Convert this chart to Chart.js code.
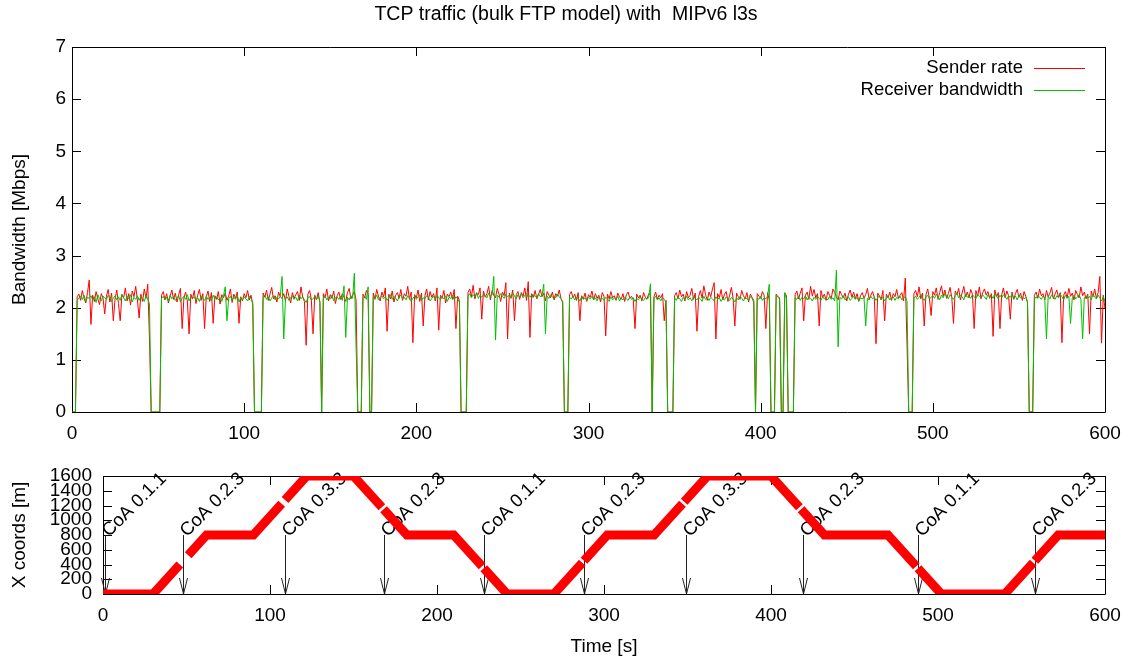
<!DOCTYPE html>
<html>
<head>
<meta charset="utf-8">
<script src="https://cdn.jsdelivr.net/npm/chart.js@4.4.1/dist/chart.umd.min.js"></script>
<style>
  html, body { margin: 0; padding: 0; background: #fff; }
  #top { position: absolute; left: 0; top: 0; width: 1132px; height: 450px; }
  #bottom { position: absolute; left: 0; top: 450px; width: 1132px; height: 212px; }
</style>
</head>
<body>
<div id="top"><canvas id="bw" width="1132" height="450"></canvas></div>
<div id="bottom"><canvas id="pos" width="1132" height="212"></canvas></div>
<script>
const titleText = "TCP traffic (bulk FTP model) with  MIPv6 l3s";
const sampleStep = 1; // seconds between samples
const timeTicks = [0, 100, 200, 300, 400, 500, 600];
const bwTicks = [0, 1, 2, 3, 4, 5, 6, 7];
const posTicks = [0, 200, 400, 600, 800, 1000, 1200, 1400, 1600];

// Mbps, one value per second, t = 0..600
const senderRate = [
  0, 0, 0, 2.21, 2.26, 2.14, 2.33, 2.18, 2.09, 2.29,
  2.53, 1.68, 2.24, 2.12, 2.31, 2.17, 2.06, 2.27, 2.19, 1.88,
  2.22, 2.35, 2.11, 2.28, 1.75, 2.16, 2.34, 2.08, 1.75, 2.25,
  2.19, 2.38, 2.13, 2.27, 2.05, 2.32, 2.21, 2.41, 2.15, 1.80,
  2.26, 2.12, 2.36, 2.18, 2.45, 1.40, 0, 0, 0, 0,
  0, 0, 2.24, 2.31, 2.15, 2.27, 2.09, 2.22, 2.34, 2.16,
  2.28, 2.11, 2.25, 2.37, 1.60, 2.19, 2.30, 2.13, 1.50, 2.26,
  2.17, 2.33, 2.08, 2.24, 2.35, 2.14, 2.27, 1.60, 2.21, 2.32,
  2.12, 2.29, 1.70, 2.23, 2.16, 2.31, 2.07, 2.25, 2.19, 2.28,
  2.14, 2.22, 2.36, 2.10, 2.26, 2.18, 2.30, 1.70, 2.21, 2.13,
  2.27, 2.19, 2.33, 2.15, 2.24, 2.05, 0, 0, 0, 0,
  0, 2.28, 2.20, 2.34, 2.14, 2.26, 2.39, 2.17, 2.23, 2.11,
  2.30, 2.21, 2.18, 2.27, 2.13, 2.36, 2.22, 2.09, 2.29, 2.18,
  2.25, 2.31, 2.14, 2.40, 2.20, 2.12, 1.28, 2.26, 2.33, 2.17,
  1.50, 2.24, 2.15, 2.29, 2.10, 0, 2.27, 2.19, 2.36, 2.13,
  2.25, 2.18, 2.32, 2.08, 2.23, 2.30, 2.16, 2.27, 2.20, 2.12,
  2.29, 2.37, 2.17, 2.24, 2.31, 2.15, 0, 0, 0, 2.26,
  2.19, 2.33, 2.25, 0, 0, 2.28, 2.16, 2.35, 2.22, 2.13,
  2.30, 2.21, 2.38, 1.55, 2.26, 2.17, 2.32, 2.11, 2.24, 2.29,
  2.18, 2.35, 2.14, 2.27, 2.22, 2.41, 2.16, 2.30, 1.33, 2.25,
  2.19, 2.34, 2.12, 2.28, 1.65, 2.23, 2.36, 2.15, 2.31, 2.20,
  2.27, 2.13, 2.38, 1.57, 2.24, 2.18, 2.33, 2.09, 2.26, 2.21,
  2.30, 2.16, 2.35, 1.60, 2.22, 2.14, 0, 0, 0, 0,
  2.29, 2.36, 2.21, 2.43, 2.17, 2.28, 2.25, 2.38, 1.78, 2.32,
  2.20, 2.27, 2.41, 2.15, 2.33, 2.24, 2.19, 2.37, 2.26, 2.12,
  2.30, 2.23, 2.48, 1.40, 2.28, 2.18, 2.34, 1.75, 2.25, 2.31,
  2.16, 2.29, 2.22, 2.38, 2.14, 2.50, 1.43, 2.27, 2.20, 2.33,
  2.17, 2.26, 2.35, 2.21, 2.28, 2.13, 2.31, 2.24, 2.19, 2.30,
  2.15, 2.27, 2.22, 2.34, 2.18, 2.10, 0, 0, 0, 2.25,
  2.31, 2.19, 2.26, 2.14, 2.29, 1.75, 2.23, 2.17, 2.28, 2.12,
  2.25, 2.20, 2.32, 2.15, 2.27, 2.18, 2.24, 2.11, 2.29, 2.22,
  1.46, 2.26, 2.17, 2.31, 2.19, 2.23, 2.14, 2.28, 2.21, 2.16,
  2.27, 2.12, 2.25, 2.30, 2.18, 2.22, 2.15, 1.60, 2.26, 2.19,
  2.24, 2.13, 2.29, 2.20, 2.17, 2.27, 2.25, 0, 2.21, 2.30,
  2.16, 2.24, 2.19, 2.27, 1.75, 2.14, 0, 0, 0, 0,
  2.23, 2.29, 2.17, 2.34, 2.21, 2.26, 2.13, 2.31, 2.19, 2.24,
  2.37, 2.16, 2.28, 1.55, 2.22, 2.33, 2.18, 2.42, 2.25, 2.14,
  2.30, 2.21, 2.36, 2.48, 1.40, 2.27, 2.19, 2.35, 2.15, 2.26,
  2.31, 2.12, 2.24, 2.39, 2.18, 1.65, 2.28, 2.21, 2.16, 2.33,
  2.23, 2.17, 2.29, 2.11, 2.26, 2.20, 2.14, 0, 2.27, 2.22,
  2.18, 2.31, 2.24, 1.60, 2.29, 2.15, 0, 0, 0, 2.26,
  2.21, 2.19, 0, 0, 2.28, 2.23, 0, 0, 0, 0,
  2.25, 2.32, 2.17, 2.28, 2.38, 1.75, 2.24, 2.30, 2.16, 2.41,
  2.22, 2.35, 2.19, 2.27, 1.65, 2.33, 2.20, 2.26, 2.14, 2.31,
  2.24, 2.18, 2.36, 2.29, 2.21, 2.15, 2.32, 2.25, 2.19, 2.28,
  2.13, 2.26, 2.34, 2.20, 2.30, 2.17, 2.27, 2.12, 2.23, 2.29,
  2.18, 2.25, 2.37, 2.16, 2.24, 2.31, 2.20, 1.31, 2.28, 2.22,
  2.15, 2.33, 1.75, 2.26, 2.19, 2.30, 2.14, 2.27, 2.21, 2.35,
  2.18, 2.24, 2.29, 2.13, 2.57, 1.30, 0, 0, 0, 2.27,
  2.33, 2.21, 2.40, 2.17, 2.28, 1.65, 2.25, 2.36, 2.19, 1.85,
  2.31, 2.24, 2.38, 2.16, 2.29, 2.42, 2.22, 2.34, 2.18, 2.27,
  2.39, 2.20, 1.70, 2.32, 2.25, 2.37, 2.15, 2.28, 2.41, 2.21,
  2.30, 2.19, 2.35, 2.26, 1.60, 2.33, 2.22, 2.40, 2.17, 2.29,
  2.36, 2.24, 2.31, 2.18, 2.27, 1.45, 2.34, 2.21, 2.29, 1.60,
  2.25, 2.38, 2.19, 2.32, 2.23, 1.78, 2.30, 2.16, 2.27, 2.35,
  2.20, 2.28, 2.14, 2.31, 2.22, 2.09, 0, 0, 0, 2.24,
  2.30, 2.18, 2.36, 2.23, 2.27, 2.15, 2.33, 2.21, 2.28, 2.39,
  2.17, 2.26, 2.34, 2.20, 2.29, 1.33, 2.24, 2.31, 2.19, 2.37,
  2.22, 2.28, 2.15, 2.33, 2.25, 2.19, 2.40, 2.23, 2.30, 2.17,
  2.26, 1.50, 2.32, 2.21, 2.36, 2.18, 2.29, 2.60, 1.32, 2.24,
  1.98
];

const receiverBw = [
  0, 0, 0, 2.14, 2.19, 2.22, 2.16, 2.24, 2.12, 2.20,
  2.18, 2.23, 2.15, 2.21, 2.10, 2.25, 2.17, 2.13, 2.22, 2.19,
  2.16, 2.24, 2.20, 2.12, 2.18, 2.23, 2.15, 2.21, 2.14, 2.26,
  2.19, 2.13, 2.22, 2.17, 2.25, 2.11, 2.20, 2.16, 2.23, 2.14,
  2.21, 2.18, 2.12, 2.24, 2.16, 2.08, 0, 0, 0, 0,
  0, 0, 2.18, 2.22, 2.15, 2.20, 2.13, 2.24, 2.17, 2.21,
  2.14, 2.19, 2.23, 2.11, 2.18, 2.22, 2.16, 2.25, 2.13, 2.20,
  2.17, 2.21, 2.15, 2.19, 2.12, 2.23, 2.18, 2.14, 2.22, 2.16,
  2.20, 2.13, 2.24, 2.17, 2.21, 2.15, 2.19, 2.12, 2.23, 2.40,
  1.75, 2.18, 2.22, 2.14, 2.20, 2.16, 2.24, 2.11, 2.19, 2.15,
  2.21, 2.17, 2.13, 2.22, 2.18, 2.10, 0, 0, 0, 0,
  0, 2.20, 2.24, 2.16, 2.21, 2.13, 2.19, 2.23, 2.15, 2.20,
  2.17, 2.22, 2.60, 1.40, 2.18, 2.21, 2.14, 2.19, 2.23, 2.16,
  2.20, 2.13, 2.24, 2.17, 2.21, 2.15, 2.10, 2.19, 2.22, 2.14,
  2.18, 2.21, 2.16, 2.23, 2.12, 0, 2.19, 2.22, 2.15, 2.20,
  2.17, 2.24, 2.13, 2.19, 2.21, 2.16, 2.22, 2.14, 2.42, 1.43,
  2.20, 2.15, 2.23, 2.18, 2.66, 1.27, 0, 0, 0, 2.19,
  2.22, 2.16, 2.40, 0, 0, 2.21, 2.18, 2.24, 2.15, 2.20,
  2.23, 2.17, 2.21, 2.14, 2.19, 2.25, 2.16, 2.22, 2.18, 2.13,
  2.21, 2.24, 2.17, 2.20, 2.15, 2.23, 2.19, 2.12, 2.18, 2.22,
  2.16, 2.21, 2.25, 2.14, 2.19, 2.17, 2.23, 2.20, 2.13, 2.18,
  2.22, 2.16, 2.24, 2.19, 2.15, 2.21, 2.17, 2.23, 2.12, 2.20,
  2.18, 2.24, 2.15, 2.21, 2.17, 2.11, 0, 0, 0, 0,
  2.22, 2.27, 2.19, 2.25, 2.21, 2.29, 2.18, 2.24, 2.20, 2.26,
  2.23, 2.19, 2.28, 2.21, 2.25, 2.60, 1.38, 2.24, 2.20, 2.27,
  2.22, 2.18, 2.26, 2.21, 2.24, 2.19, 2.28, 2.23, 2.17, 2.25,
  2.21, 2.26, 2.19, 2.24, 2.28, 2.20, 2.23, 2.18, 2.25, 2.22,
  2.19, 2.27, 2.21, 2.24, 2.45, 1.50, 2.22, 2.18, 2.25, 2.20,
  2.23, 2.19, 2.26, 2.21, 2.17, 2.12, 0, 0, 0, 2.20,
  2.17, 2.22, 2.15, 2.20, 2.18, 2.13, 2.21, 2.16, 2.19, 2.14,
  2.20, 2.17, 2.22, 2.15, 2.19, 2.13, 2.21, 2.16, 2.18, 2.14,
  2.20, 2.17, 2.12, 2.21, 2.15, 2.19, 2.16, 2.22, 2.13, 2.18,
  2.15, 2.20, 2.17, 2.14, 2.21, 2.16, 2.19, 2.12, 2.18, 2.15,
  2.21, 2.17, 2.14, 2.19, 2.16, 2.20, 2.46, 0, 2.18, 2.22,
  2.15, 2.19, 2.13, 2.20, 2.16, 2.10, 0, 0, 0, 0,
  2.19, 2.14, 2.21, 2.17, 2.12, 2.20, 2.16, 2.22, 2.15, 2.19,
  2.13, 2.21, 2.18, 2.15, 2.20, 2.17, 2.12, 2.22, 2.16, 2.19,
  2.14, 2.20, 2.17, 2.13, 2.21, 2.16, 2.19, 2.12, 2.18, 2.15,
  2.21, 2.17, 2.14, 2.20, 2.16, 2.11, 2.19, 2.15, 2.22, 2.18,
  2.13, 2.20, 2.17, 2.15, 2.21, 2.18, 2.10, 0, 2.19, 2.16,
  2.22, 2.14, 2.19, 2.17, 2.21, 2.45, 0, 0, 0, 2.24,
  2.20, 2.17, 0, 0, 2.29, 2.18, 0, 0, 0, 0,
  2.19, 2.16, 2.22, 2.14, 2.20, 2.17, 2.23, 2.15, 2.21, 2.18,
  2.13, 2.20, 2.16, 2.22, 2.18, 2.14, 2.21, 2.17, 2.19, 2.15,
  2.22, 2.16, 2.19, 2.13, 2.72, 1.25, 2.20, 2.17, 2.23, 2.15,
  2.19, 2.21, 2.14, 2.18, 2.22, 2.16, 2.20, 2.13, 2.19, 2.17,
  2.21, 1.65, 2.18, 2.15, 2.22, 2.17, 2.20, 2.14, 2.19, 2.23,
  2.16, 2.20, 2.13, 2.18, 2.22, 2.15, 2.19, 2.21, 2.14, 2.20,
  2.17, 2.22, 2.15, 2.19, 2.21, 2.12, 0, 0, 0, 2.18,
  2.22, 2.16, 2.20, 2.25, 2.18, 2.14, 2.21, 2.24, 2.17, 2.20,
  2.23, 2.18, 2.26, 2.21, 2.15, 2.24, 2.19, 2.27, 2.22, 2.17,
  2.25, 2.20, 2.16, 2.23, 2.28, 2.19, 2.24, 2.21, 2.15, 2.26,
  2.20, 2.23, 2.18, 2.25, 2.21, 2.17, 2.26, 2.22, 2.19, 2.24,
  2.21, 2.16, 2.25, 2.20, 2.23, 2.18, 2.27, 2.22, 2.17, 2.24,
  2.19, 2.25, 2.21, 2.16, 2.23, 2.20, 2.26, 2.18, 2.22, 2.15,
  2.24, 2.19, 2.21, 2.17, 2.20, 2.12, 0, 0, 0, 2.21,
  2.18, 2.24, 2.20, 2.16, 2.23, 2.19, 1.40, 2.22, 2.17, 2.25,
  2.20, 2.16, 2.23, 2.19, 2.26, 2.21, 2.15, 2.24, 2.18, 2.22,
  1.70, 2.19, 2.24, 2.17, 2.21, 2.25, 2.16, 1.40, 2.20, 2.23,
  2.18, 2.22, 2.15, 2.26, 2.20, 2.17, 2.24, 2.19, 2.13, 2.21,
  2.12
];

// mobile node X coordinate [m]; null = no sample (handover gap)
const posTimes  = [0, 30, 46, 47, 51, 62, 90, 107, 108, 109, 122, 150, 167, 167.5, 168, 182, 210,
                   227, 227.5, 228, 242, 270, 287, 287.5, 288, 302, 330, 347, 347.5, 348, 362, 400,
                   417, 417.5, 418, 432, 470, 487, 487.5, 488, 502, 540, 557, 557.5, 558, 572, 600];
const posValues = [0, 0, 400, null, 525, 800, 800, 1225, null, 1275, 1600, 1600, 1175, null, 1150, 800, 800,
                   375, null, 350, 0, 0, 425, null, 450, 800, 800, 1225, null, 1250, 1600, 1600,
                   1175, null, 1150, 800, 800, 375, null, 350, 0, 0, 425, null, 450, 800, 800];

// care-of-address changes
const coaTimes = [1, 48, 109, 168, 228, 288, 349, 419, 488, 558];
const coaLabels = ['CoA 0.1.1', 'CoA 0.2.3', 'CoA 0.3.3', 'CoA 0.2.3', 'CoA 0.1.1',
                   'CoA 0.2.3', 'CoA 0.3.3', 'CoA 0.2.3', 'CoA 0.1.1', 'CoA 0.2.3'];
const coaFrom = 800;
const coaTo = 0;

const FONT = '"Liberation Sans", Arial, Helvetica, sans-serif';
Chart.defaults.font.family = FONT;
Chart.defaults.font.size = 19;
Chart.defaults.color = '#000';

// gnuplot style box with inward ticks on all four sides
const frame = {
  id: 'frame',
  beforeDatasetsDraw(chart) {
    const { ctx, chartArea: a, scales } = chart;
    const L = 9;
    ctx.save();
    ctx.strokeStyle = '#000';
    ctx.lineWidth = 1;
    ctx.beginPath();
    ctx.rect(Math.round(a.left) + 0.5, Math.round(a.top) + 0.5,
             Math.round(a.right - a.left), Math.round(a.bottom - a.top));
    for (const t of scales.x.ticks) {
      const px = Math.round(scales.x.getPixelForValue(t.value)) + 0.5;
      ctx.moveTo(px, a.bottom); ctx.lineTo(px, a.bottom - L);
      ctx.moveTo(px, a.top); ctx.lineTo(px, a.top + L);
    }
    for (const t of scales.y.ticks) {
      const py = Math.round(scales.y.getPixelForValue(t.value)) + 0.5;
      ctx.moveTo(a.left, py); ctx.lineTo(a.left + L, py);
      ctx.moveTo(a.right, py); ctx.lineTo(a.right - L, py);
    }
    ctx.stroke();
    ctx.restore();
  }
};

const keyBox = {
  id: 'keyBox',
  afterDatasetsDraw(chart) {
    const { ctx } = chart;
    ctx.save();
    ctx.font = '18.5px ' + FONT;
    ctx.textAlign = 'right';
    ctx.textBaseline = 'middle';
    chart.data.datasets.forEach((ds, i) => {
      const y = 68 + i * 22;
      ctx.fillStyle = '#000';
      ctx.fillText(ds.label, 1023, y);
      ctx.strokeStyle = ds.borderColor;
      ctx.lineWidth = 1;
      ctx.beginPath();
      ctx.moveTo(1034, Math.round(y) + 0.5);
      ctx.lineTo(1085, Math.round(y) + 0.5);
      ctx.stroke();
    });
    ctx.font = '19.5px ' + FONT;
    ctx.textAlign = 'center';
    ctx.fillText(titleText, chart.width / 2, 15);
    ctx.restore();
  }
};

const coaMarks = {
  id: 'coaMarks',
  beforeDatasetsDraw(chart) {
    const { ctx, scales } = chart;
    ctx.save();
    ctx.strokeStyle = '#222';
    ctx.fillStyle = '#000';
    ctx.lineWidth = 1;
    ctx.font = '18.5px ' + FONT;
    ctx.textAlign = 'left';
    ctx.textBaseline = 'middle';
    coaTimes.forEach((t, i) => {
      const x = Math.round(scales.x.getPixelForValue(t)) + 0.5;
      const y0 = scales.y.getPixelForValue(coaFrom);
      const y1 = scales.y.getPixelForValue(coaTo);
      ctx.beginPath();
      ctx.moveTo(x, y0); ctx.lineTo(x, y1);
      ctx.moveTo(x - 4, y1 - 16); ctx.lineTo(x, y1); ctx.lineTo(x + 4, y1 - 16);
      ctx.stroke();
      ctx.save();
      ctx.translate(x, y0 - 1);
      ctx.rotate(-Math.PI / 4);
      ctx.fillText(coaLabels[i], 0, 0);
      ctx.restore();
    });
    ctx.restore();
  }
};

function fixedTicks(values) {
  return scale => { scale.ticks = values.map(v => ({ value: v })); };
}
const plainLabel = v => String(v);

new Chart(document.getElementById('bw'), {
  type: 'line',
  data: {
    datasets: [
      {
        label: 'Sender rate',
        data: senderRate.map((v, i) => ({ x: i * sampleStep, y: v })),
        borderColor: '#ff0000',
        borderWidth: 1,
        order: 2
      },
      {
        label: 'Receiver bandwidth',
        data: receiverBw.map((v, i) => ({ x: i * sampleStep, y: v })),
        borderColor: '#00c000',
        borderWidth: 1,
        order: 1
      }
    ]
  },
  options: {
    responsive: false,
    animation: false,
    events: [],
    elements: { point: { radius: 0 }, line: { tension: 0 } },
    layout: { padding: { top: 47, right: 27, left: 0, bottom: 0 } },
    plugins: { legend: { display: false }, title: { display: false }, tooltip: { enabled: false } },
    scales: {
      x: {
        type: 'linear', min: 0, max: 600,
        afterBuildTicks: fixedTicks(timeTicks),
        afterFit: s => { s.height = 38; },
        grid: { display: false, drawTicks: false },
        border: { display: false },
        ticks: { padding: 10, autoSkip: false, maxRotation: 0, callback: plainLabel }
      },
      y: {
        min: 0, max: 7,
        afterBuildTicks: fixedTicks(bwTicks),
        afterFit: s => { s.width = 72; },
        grid: { display: false, drawTicks: false },
        border: { display: false },
        ticks: { padding: 6, autoSkip: false, callback: plainLabel },
        title: { display: true, text: 'Bandwidth [Mbps]', padding: { top: 8, bottom: 0 } }
      }
    }
  },
  plugins: [frame, keyBox]
});

new Chart(document.getElementById('pos'), {
  type: 'line',
  data: {
    datasets: [{
      label: 'X coords',
      data: posTimes.map((t, i) => ({ x: t, y: posValues[i] })),
      borderColor: '#ff0000',
      borderWidth: 9,
      borderCapStyle: 'butt',
      borderJoinStyle: 'miter',
      spanGaps: false
    }]
  },
  options: {
    responsive: false,
    animation: false,
    events: [],
    elements: { point: { radius: 0 }, line: { tension: 0 } },
    layout: { padding: { top: 26, right: 27, left: 0, bottom: 0 } },
    plugins: { legend: { display: false }, title: { display: false }, tooltip: { enabled: false } },
    scales: {
      x: {
        type: 'linear', min: 0, max: 600,
        afterBuildTicks: fixedTicks(timeTicks),
        afterFit: s => { s.height = 68; },
        grid: { display: false, drawTicks: false },
        border: { display: false },
        ticks: { padding: 10, autoSkip: false, maxRotation: 0, callback: plainLabel },
        title: { display: true, text: 'Time [s]', padding: { top: 0, bottom: 4 } }
      },
      y: {
        min: 0, max: 1600,
        afterBuildTicks: fixedTicks(posTicks),
        afterFit: s => { s.width = 103; },
        grid: { display: false, drawTicks: false },
        border: { display: false },
        ticks: { padding: 11, autoSkip: false, callback: plainLabel },
        title: { display: true, text: 'X coords [m]', padding: { top: 8, bottom: 0 } }
      }
    }
  },
  plugins: [frame, coaMarks]
});
</script>
</body>
</html>
